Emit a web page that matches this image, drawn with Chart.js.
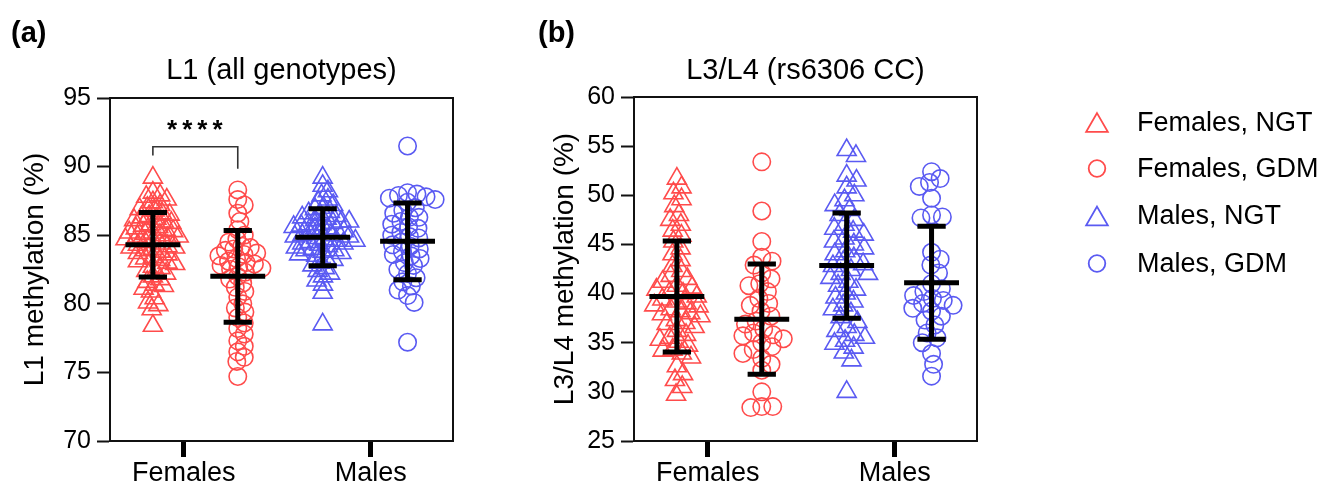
<!DOCTYPE html>
<html><head><meta charset="utf-8">
<script src="https://cdn.jsdelivr.net/npm/chart.js@4.4.1/dist/chart.umd.min.js"></script>
<style>
html,body{margin:0;padding:0;background:#fff;}
#wrap{position:relative;width:1328px;height:486px;overflow:hidden;background:#fff;}
.panel{position:absolute;top:0;height:486px;}
</style></head><body>
<div id="wrap">
<div class="panel" style="left:0;width:530px"><canvas id="ca"></canvas></div>
<div class="panel" style="left:530px;width:798px"><canvas id="cb"></canvas></div>
</div>
<script>
// ---------- data ----------
const categories = ['Females', 'Males'];
const seriesNames = ['Females, NGT', 'Females, GDM', 'Males, NGT', 'Males, GDM'];
const groupPos = [0.5, 1.49, 2.48, 3.47];
const categoryTickPos = [0.86, 3.04];

const a_title = 'L1 (all genotypes)';
const a_yLabel = 'L1 methylation (%)';
const a_yTicks = [70, 75, 80, 85, 90, 95];
const a_FemNGT = [84.5, 86.2, 83.1, 85.7, 88.1, 82.6, 84.9, 81.3, 86.8, 85.2, 83.7, 79.6, 87.4, 84.1, 85.9, 82.9, 86.4, 80.4, 84.7, 83.4, 89.2, 85.4, 81.8, 87.0, 84.3, 86.0, 82.2, 85.1, 83.9, 80.9, 87.8, 84.6, 85.6, 83.2, 86.5, 81.1, 84.0, 85.3, 82.7, 86.9, 78.4, 84.8, 83.6, 87.2, 85.8, 82.4, 84.2, 81.6, 86.1, 83.0, 85.0, 80.1, 87.6, 84.4, 83.8, 86.6, 82.0, 85.5, 79.9, 84.9, 83.3, 86.3, 81.4, 85.2, 84.1, 87.9];
const a_FemGDM = [88.3, 84.0, 79.4, 83.1, 87.6, 82.5, 76.9, 85.0, 81.8, 83.7, 78.2, 87.2, 82.9, 80.5, 84.5, 75.8, 83.3, 86.6, 81.2, 82.0, 79.0, 84.2, 77.3, 83.9, 86.0, 82.6, 80.0, 83.5, 74.7, 82.3, 85.4, 78.6, 84.7, 81.5, 76.5, 83.0, 80.9, 82.8, 79.7, 77.8, 83.6, 76.1, 84.1, 82.7];
const a_MalNGT = [85.2, 86.6, 83.9, 88.2, 84.7, 82.6, 85.8, 87.2, 84.1, 83.3, 86.0, 78.5, 85.5, 84.4, 87.6, 82.2, 85.0, 86.3, 83.7, 84.9, 89.2, 85.6, 81.7, 84.6, 86.9, 83.5, 85.3, 84.0, 87.0, 82.8, 85.9, 84.3, 86.4, 83.0, 85.1, 88.6, 84.8, 82.4, 86.7, 85.4, 80.8, 84.5, 87.4, 83.8, 85.7, 84.2, 86.1, 83.2, 85.0, 87.9, 84.9, 82.0, 86.2, 83.6, 85.5, 81.4, 84.4, 86.5, 83.9, 85.8, 84.6, 86.0];
const a_MalGDM = [91.5, 86.3, 83.0, 88.0, 84.8, 81.6, 87.7, 85.5, 82.8, 86.8, 84.2, 80.6, 87.9, 85.0, 83.6, 87.4, 81.0, 86.0, 84.5, 82.2, 88.1, 85.8, 83.3, 87.0, 80.1, 84.0, 85.2, 82.5, 87.8, 86.6, 83.8, 81.3, 84.3, 87.6, 85.6, 77.2, 83.5, 81.9, 86.3, 84.9];
const a_mean = [84.3, 82.0, 84.85, 84.55];
const a_sd = [2.35, 3.35, 2.07, 2.8];
const a_sigLabel = '****';

const b_title = 'L3/L4 (rs6306 CC)';
const b_yLabel = 'L3/L4 methylation (%)';
const b_yTicks = [25, 30, 35, 40, 45, 50, 55, 60];
const b_FemNGT = [39.4, 45.9, 35.1, 51.7, 41.2, 37.7, 48.0, 33.9, 40.4, 43.4, 36.6, 50.2, 38.7, 42.3, 29.7, 39.0, 46.4, 34.7, 40.8, 37.0, 49.6, 38.4, 44.6, 31.8, 40.0, 36.2, 47.5, 39.7, 42.8, 35.5, 50.8, 38.0, 41.8, 33.5, 37.3, 45.3, 40.1, 30.5, 39.2, 44.0, 36.9, 48.9, 38.8, 34.3, 41.5, 37.9, 47.0, 35.8, 40.6, 32.6, 38.2, 31.2, 35.3, 34.2];
const b_FemGDM = [53.4, 36.0, 41.0, 33.4, 48.4, 38.2, 35.7, 42.9, 28.5, 37.2, 34.3, 45.3, 39.5, 35.0, 30.0, 40.8, 36.4, 32.8, 43.7, 38.8, 35.4, 28.4, 41.5, 36.9, 33.9, 43.3, 37.7, 34.6, 28.5, 40.2, 35.8, 32.2, 42.1, 39.0];
const b_MalNGT = [44.3, 38.8, 47.0, 35.5, 54.6, 42.0, 40.4, 49.5, 36.6, 45.6, 43.2, 33.2, 46.3, 41.2, 52.0, 37.6, 44.0, 39.6, 48.5, 35.2, 42.8, 50.8, 38.0, 45.0, 30.0, 41.6, 36.2, 47.5, 43.6, 39.2, 54.0, 34.9, 46.0, 40.8, 37.1, 49.0, 42.4, 38.4, 45.3, 34.5, 51.5, 44.6, 40.0, 35.8, 48.0, 42.0, 46.6, 34.0, 50.0, 43.0];
const b_MalGDM = [52.4, 39.5, 44.2, 35.5, 47.8, 38.8, 51.3, 41.0, 33.9, 42.9, 39.0, 49.7, 36.8, 40.5, 31.6, 43.5, 38.2, 51.7, 35.0, 40.2, 48.0, 37.3, 42.1, 39.8, 32.8, 47.7, 38.5, 50.9, 36.0, 39.3, 37.7];
const b_mean = [39.7, 37.4, 42.85, 41.1];
const b_sd = [5.65, 5.6, 5.35, 5.75];

// ---------- styles ----------
const FONT = "'Liberation Sans', Arial, sans-serif";
const RED = '#FF4B4B';
const BLUE = '#5A5AF2';
const seriesColors = [RED, RED, BLUE, BLUE];
const seriesStyles = ['triangle', 'circle', 'triangle', 'circle'];
const seriesRadius = [11, 8.7, 11, 8.7];

function errorBarData(means, sds) {
  const out = [];
  means.forEach((m, i) => {
    const c = groupPos[i], s = sds[i];
    out.push({x: c - 0.32, y: m}, {x: c + 0.32, y: m}, {x: c, y: null});
    out.push({x: c - 0.165, y: m + s}, {x: c + 0.165, y: m + s}, {x: c, y: null});
    out.push({x: c - 0.165, y: m - s}, {x: c + 0.165, y: m - s}, {x: c, y: null});
    out.push({x: c, y: m - s}, {x: c, y: m + s}, {x: c, y: null});
  });
  return out;
}

const framePlugin = {
  id: 'frame',
  afterDraw(chart, args, opts) {
    const {ctx, chartArea: ca} = chart;
    ctx.save();
    ctx.strokeStyle = '#111';
    ctx.lineWidth = 2;
    ctx.strokeRect(ca.left, ca.top, ca.right - ca.left, ca.bottom - ca.top);
    ctx.fillStyle = '#000';
    ctx.font = `29px ${FONT}`;
    ctx.textAlign = 'center';
    ctx.textBaseline = 'alphabetic';
    ctx.fillText(opts.title, (ca.left + ca.right) / 2, 79);
    ctx.font = `bold 29px ${FONT}`;
    ctx.textAlign = 'left';
    ctx.fillText(opts.panel, opts.panelX, 42);
    if (opts.sig) {
      const xs = chart.scales.x, ys = chart.scales.y;
      ctx.font = `bold 26px ${FONT}`;
      ctx.textAlign = 'center';
      ctx.textBaseline = 'middle';
      try { ctx.letterSpacing = '5px'; } catch (e) {}
      ctx.fillText(opts.sig.text, xs.getPixelForValue(opts.sig.x) + 2, ys.getPixelForValue(opts.sig.y));
      try { ctx.letterSpacing = '0px'; } catch (e) {}
    }
    if (opts.legend) {
      const H = Chart.helpers;
      const x0 = ca.right + 120, tx = ca.right + 160;
      const rows = [122.5, 168.5, 216, 263.5];
      seriesNames.forEach((name, i) => {
        const isTri = seriesStyles[i] === 'triangle';
        const r = isTri ? 12.5 : 8.3;
        const y = rows[i] + (isTri ? r / 4 : 0);
        ctx.strokeStyle = seriesColors[i];
        ctx.fillStyle = 'rgba(0,0,0,0)';
        ctx.lineWidth = 1.8;
        H.drawPoint(ctx, {pointStyle: seriesStyles[i], radius: r, rotation: 0, borderWidth: 1.8}, x0, y);
        ctx.fillStyle = '#000';
        ctx.font = `27px ${FONT}`;
        ctx.textAlign = 'left';
        ctx.textBaseline = 'alphabetic';
        ctx.fillText(name, tx, rows[i] + 8);
      });
    }
    ctx.restore();
  }
};

function swarm(chart) {
  const xs = chart.scales.x, ys = chart.scales.y;
  chart.data.datasets.forEach(ds => {
    if (!ds.swarmValues) return;
    const cx = xs.getPixelForValue(ds.swarmCenter);
    const D = ds.swarmDist;
    const pts = ds.swarmValues.map(v => ({v, py: ys.getPixelForValue(v), px: 0}));
    const sorted = pts.slice().sort((a, b) => a.py - b.py);
    const placed = [];
    sorted.forEach(p => {
      const cands = [0];
      placed.forEach(q => {
        const dy = p.py - q.py;
        if (Math.abs(dy) < D) {
          const dx = Math.sqrt(D * D - dy * dy);
          cands.push(q.px + dx, q.px - dx);
        }
      });
      cands.sort((a, b) => Math.abs(a) - Math.abs(b));
      for (const c of cands) {
        if (placed.every(q => (q.px - c) ** 2 + (q.py - p.py) ** 2 >= D * D - 0.01)) { p.px = c; break; }
      }
      placed.push(p);
    });
    ds.data = pts.map(p => ({x: xs.getValueForPixel(cx + p.px), y: p.v}));
  });
  chart.update('none');
}

function makePanel(id, cfg) {
  const datasets = [];
  datasets.push({
    type: 'scatter', data: errorBarData(cfg.mean, cfg.sd), showLine: true, spanGaps: false,
    borderColor: '#000', borderWidth: 5, pointRadius: 0, order: 0, borderCapStyle: 'butt'
  });
  if (cfg.bracket) {
    datasets.push({
      type: 'scatter', data: cfg.bracket, showLine: true, borderColor: '#333', borderWidth: 1.6,
      pointRadius: 0, order: 0
    });
  }
  cfg.series.forEach((vals, i) => {
    datasets.push({
      type: 'scatter', label: seriesNames[i],
      data: vals.map(v => ({x: groupPos[i], y: v})),
      swarmValues: vals, swarmCenter: groupPos[i], swarmDist: cfg.swarmDist[i],
      pointStyle: seriesStyles[i], pointRadius: seriesRadius[i], pointBorderWidth: 1.6,
      borderColor: seriesColors[i], backgroundColor: 'rgba(0,0,0,0)', order: 2
    });
  });
  const chart = new Chart(document.getElementById(id), {
    type: 'scatter',
    data: {datasets},
    options: {
      responsive: true, maintainAspectRatio: false, animation: false, events: [],
      layout: {padding: {left: 0, right: cfg.padRight, top: cfg.padTop, bottom: 0}},
      plugins: {legend: {display: false}, tooltip: {enabled: false},
        frame: {title: cfg.title, panel: cfg.panel, panelX: cfg.panelX, sig: cfg.sig, legend: cfg.legend}},
      scales: {
        x: {
          type: 'linear', min: 0, max: 4,
          afterBuildTicks: s => { s.ticks = categoryTickPos.map(v => ({value: v})); },
          ticks: {callback: (v, i) => categories[i], color: '#000', font: {family: FONT, size: 27}, padding: 0, maxRotation: 0, autoSkip: false},
          grid: {drawOnChartArea: false, drawTicks: true, tickLength: 16, tickWidth: 5, tickColor: '#000'},
          border: {display: true, color: '#111', width: 2},
          afterFit: s => { s.height = 45; }
        },
        y: {
          type: 'linear', min: cfg.yTicks[0], max: cfg.yTicks[cfg.yTicks.length - 1],
          afterBuildTicks: s => { s.ticks = cfg.yTicks.map(v => ({value: v})); },
          ticks: {color: '#000', font: {family: FONT, size: 25}, padding: 6},
          grid: {drawOnChartArea: false, drawTicks: true, tickLength: 13, tickWidth: 2, tickColor: '#111'},
          border: {display: true, color: '#111', width: 2},
          title: {display: true, text: cfg.yLabel, color: '#000', font: {family: FONT, size: 28}, padding: {top: 18, bottom: 0}},
          afterFit: s => { s.width = cfg.yWidth; }
        }
      }
    },
    plugins: [framePlugin]
  });
  swarm(chart);
  return chart;
}

makePanel('ca', {
  series: [a_FemNGT, a_FemGDM, a_MalNGT, a_MalGDM], mean: a_mean, sd: a_sd,
  yTicks: a_yTicks, yLabel: a_yLabel, title: a_title, panel: '(a)', panelX: 11,
  padRight: 77, padTop: 98, yWidth: 110, swarmDist: [7.8, 8.5, 7.6, 9.5],
  bracket: [{x: groupPos[0], y: 90.8}, {x: groupPos[0], y: 91.45}, {x: groupPos[1], y: 91.45}, {x: groupPos[1], y: 89.85}],
  sig: {text: a_sigLabel, x: (groupPos[0] + groupPos[1]) / 2, y: 92.6}
});
makePanel('cb', {
  series: [b_FemNGT, b_FemGDM, b_MalNGT, b_MalGDM], mean: b_mean, sd: b_sd,
  yTicks: b_yTicks, yLabel: b_yLabel, title: b_title, panel: '(b)', panelX: 8,
  padRight: 351, padTop: 97, yWidth: 104, swarmDist: [10, 11, 11, 11], legend: true
});
</script>
</body></html>
